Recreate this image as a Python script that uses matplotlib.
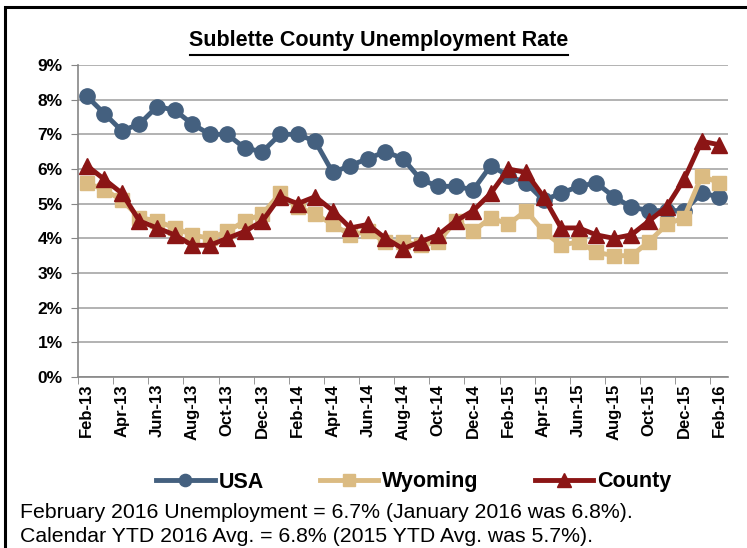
import matplotlib
matplotlib.use('Agg')
import matplotlib.pyplot as plt
from matplotlib.patches import Rectangle
from matplotlib.ticker import FuncFormatter

plt.rcParams['font.family'] = ['Liberation Sans', 'DejaVu Sans']

# meses (Feb-13 a Feb-16)
months = ['Feb-13', 'Mar-13', 'Apr-13', 'May-13', 'Jun-13', 'Jul-13', 'Aug-13',
          'Sep-13', 'Oct-13', 'Nov-13', 'Dec-13', 'Jan-14', 'Feb-14', 'Mar-14',
          'Apr-14', 'May-14', 'Jun-14', 'Jul-14', 'Aug-14', 'Sep-14', 'Oct-14',
          'Nov-14', 'Dec-14', 'Jan-15', 'Feb-15', 'Mar-15', 'Apr-15', 'May-15',
          'Jun-15', 'Jul-15', 'Aug-15', 'Sep-15', 'Oct-15', 'Nov-15', 'Dec-15',
          'Jan-16', 'Feb-16']

usa = [8.1, 7.6, 7.1, 7.3, 7.8, 7.7, 7.3, 7.0, 7.0, 6.6, 6.5, 7.0, 7.0, 6.8,
       5.9, 6.1, 6.3, 6.5, 6.3, 5.7, 5.5, 5.5, 5.4, 6.1, 5.8, 5.6, 5.1, 5.3,
       5.5, 5.6, 5.2, 4.9, 4.8, 4.8, 4.8, 5.3, 5.2]
wyoming = [5.6, 5.4, 5.1, 4.6, 4.5, 4.3, 4.1, 4.0, 4.2, 4.5, 4.7, 5.3, 4.9, 4.7,
           4.4, 4.1, 4.2, 3.9, 3.9, 3.8, 3.9, 4.5, 4.2, 4.6, 4.4, 4.8, 4.2, 3.8,
           3.9, 3.6, 3.5, 3.5, 3.9, 4.4, 4.6, 5.8, 5.6]
county = [6.1, 5.7, 5.3, 4.5, 4.3, 4.1, 3.8, 3.8, 4.0, 4.2, 4.5, 5.2, 5.0, 5.2,
          4.8, 4.3, 4.4, 4.0, 3.7, 3.9, 4.1, 4.5, 4.8, 5.3, 6.0, 5.9, 5.2, 4.3,
          4.3, 4.1, 4.0, 4.1, 4.5, 4.9, 5.7, 6.8, 6.7]

x = list(range(len(months)))

W, H = 747, 548
fig = plt.figure(figsize=(W / 100, H / 100), dpi=100)
ax = fig.add_axes([78 / W, 1 - 377 / H, 650 / W, 312 / H])

ax.plot(x, usa, color='#44607f', lw=3.5, marker='o', ms=11, label='USA', zorder=3)
ax.plot(x, wyoming, color='#dbbb82', lw=3.5, marker='s', ms=10, label='Wyoming', zorder=4)
ax.plot(x, county, color='#8b1515', lw=3.5, marker='^', ms=12, label='County', zorder=5)

ax.set_ylim(0, 9)
ax.set_yticks(range(0, 10))
ax.yaxis.set_major_formatter(FuncFormatter(lambda v, p: f'{int(v)}%'))
ax.set_xlim(-0.5, len(months) - 0.5)
ax.set_xticks(x[::2])
ax.set_xticklabels(months[::2], rotation=90, fontsize=12, fontweight='bold')
ax.set_xticks([i - 0.5 for i in x[::2]], minor=True)
for lbl in ax.get_yticklabels():
    lbl.set_fontsize(12.5)
    lbl.set_fontweight('bold')

ax.grid(axis='y', color='#a6a6a6', lw=1.2)
ax.set_axisbelow(True)
for s in ['top', 'right']:
    ax.spines[s].set_visible(False)
for s in ['left', 'bottom']:
    ax.spines[s].set_color('#868686')
    ax.spines[s].set_linewidth(1.2)
ax.tick_params(axis='y', length=5, color='#868686', pad=6)
ax.tick_params(axis='x', which='major', length=0, pad=5)
ax.tick_params(axis='x', which='minor', length=5, color='#868686')

# titulo subrayado
fig.text(379 / W, 1 - 46 / H, 'Sublette County Unemployment Rate',
         ha='center', va='baseline', fontsize=15.5, fontweight='bold')
fig.add_artist(plt.Line2D([190 / W, 568 / W], [1 - 55 / H, 1 - 55 / H],
                          color='black', lw=1.5))

fig.legend(loc='center', bbox_to_anchor=(414 / W, 1 - 482 / H), ncol=3,
           frameon=False, handlelength=2.7, columnspacing=2.6, handletextpad=0.2,
           markerscale=0.8, prop={'weight': 'bold', 'size': 15.5})

fig.text(20 / W, 1 - 512 / H,
         'February 2016 Unemployment = 6.7% (January 2016 was 6.8%).',
         ha='left', va='center', fontsize=15.3)
fig.text(20 / W, 1 - 537 / H,
         'Calendar YTD 2016 Avg. = 6.8% (2015 YTD Avg. was 5.7%).',
         ha='left', va='center', fontsize=15.3)

# marco exterior
fig.add_artist(Rectangle((5 / W, -0.05), 1.2, 1.05 - 7 / H,
                         transform=fig.transFigure, fill=False,
                         edgecolor='black', lw=2.2, clip_on=False))

fig.savefig('out.png', dpi=100)
